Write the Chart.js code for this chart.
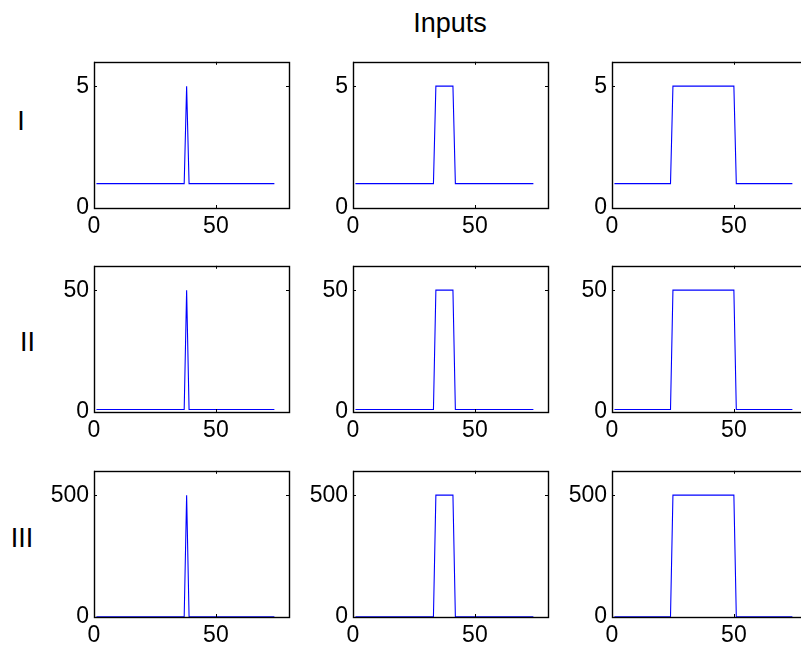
<!DOCTYPE html>
<html>
<head>
<meta charset="utf-8">
<script src="https://cdn.jsdelivr.net/npm/chart.js@4/dist/chart.umd.min.js"></script>
<style>
  html, body { margin: 0; padding: 0; background: #fff; overflow: hidden; }
  #wrap { position: relative; width: 801px; height: 648px; overflow: hidden; }
  #wrap canvas { position: absolute; }
  .lbl { position: absolute; font-family: "Liberation Sans", Arial, sans-serif; font-size: 27px; line-height: 27px; color: #000; white-space: nowrap; }
</style>
</head>
<body>
<div id="wrap">
  <div class="lbl" style="left:0; width:900px; text-align:center; top:10px;">Inputs</div>
  <div class="lbl" style="left:0; width:42px; text-align:center; top:108px;">I</div>
  <div class="lbl" style="left:0; width:55px; text-align:center; top:329px;">II</div>
  <div class="lbl" style="left:0; width:44px; text-align:center; top:525px;">III</div>
</div>
<script>
// step positions (time index) for the three pulse widths
const xNarrow = [1, 37, 38, 39, 74];
const xMedium = [1, 33, 34, 41, 42, 74];
const xWide   = [1, 24, 25, 50, 51, 74];

// row I
const yNarrowI = [1, 1, 5, 1, 1];
const yMediumI = [1, 1, 5, 5, 1, 1];
const yWideI   = [1, 1, 5, 5, 1, 1];
// row II
const yNarrowII = [1, 1, 50, 1, 1];
const yMediumII = [1, 1, 50, 50, 1, 1];
const yWideII   = [1, 1, 50, 50, 1, 1];
// row III
const yNarrowIII = [1, 1, 500, 1, 1];
const yMediumIII = [1, 1, 500, 500, 1, 1];
const yWideIII   = [1, 1, 500, 500, 1, 1];

const xTicks = [0, 50];
const yTicksI = [0, 5];
const yTicksII = [0, 50];
const yTicksIII = [0, 500];
const yMaxes = [6, 60, 600];
const xMax = 80;

const colLeft = [94, 353, 612];
const rowTop = [53, 257, 462];
const plotW = 195, plotH = 155;

const panels = [
  [[xNarrow, yNarrowI], [xMedium, yMediumI], [xWide, yWideI]],
  [[xNarrow, yNarrowII], [xMedium, yMediumII], [xWide, yWideII]],
  [[xNarrow, yNarrowIII], [xMedium, yMediumIII], [xWide, yWideIII]]
];
const rowTicks = [yTicksI, yTicksII, yTicksIII];

const boxPlugin = {
  id: 'box',
  afterDraw(chart) {
    const { ctx, chartArea: a, scales } = chart;
    ctx.save();
    ctx.strokeStyle = '#000';
    ctx.lineWidth = 1.4;
    ctx.strokeRect(Math.round(a.left) + 0.5, Math.round(a.top) + 0.5,
      Math.round(a.right - a.left), Math.round(a.bottom - a.top));
    ctx.lineWidth = 1;
    ctx.beginPath();
    const t = 3;
    scales.x.ticks.forEach(tk => {
      const px = Math.round(scales.x.getPixelForValue(tk.value)) + 0.5;
      ctx.moveTo(px, a.bottom); ctx.lineTo(px, a.bottom - t);
      ctx.moveTo(px, a.top); ctx.lineTo(px, a.top + t);
    });
    scales.y.ticks.forEach(tk => {
      const py = Math.round(scales.y.getPixelForValue(tk.value)) + 0.5;
      ctx.moveTo(a.left, py); ctx.lineTo(a.left + t, py);
      ctx.moveTo(a.right, py); ctx.lineTo(a.right - t, py);
    });
    ctx.stroke();
    ctx.restore();
  }
};

const tickFont = { family: '"Liberation Sans", Arial, sans-serif', size: 23 };
const wrap = document.getElementById('wrap');

panels.forEach((row, r) => {
  row.forEach(([xs, ys], c) => {
    const cv = document.createElement('canvas');
    cv.width = 60 + plotW + 10;
    cv.height = 10 + plotH + 40;
    cv.style.left = (colLeft[c] - 60) + 'px';
    cv.style.top = (rowTop[r] - 10) + 'px';
    wrap.appendChild(cv);
    new Chart(cv, {
      type: 'line',
      data: {
        datasets: [{
          data: xs.map((x, i) => ({ x: x, y: ys[i] })),
          borderColor: '#0000ff',
          borderWidth: 1.1,
          pointRadius: 0,
          tension: 0,
          fill: false
        }]
      },
      options: {
        responsive: false,
        animation: false,
        layout: { padding: { left: 0, top: 10, right: 10, bottom: 0 } },
        plugins: { legend: { display: false }, tooltip: { enabled: false } },
        scales: {
          x: {
            type: 'linear', min: 0, max: xMax,
            grid: { display: false, drawTicks: false },
            border: { display: false },
            ticks: { font: tickFont, color: '#000', padding: 5, maxRotation: 0, autoSkip: false },
            afterBuildTicks: s => { s.ticks = xTicks.map(v => ({ value: v })); },
            afterFit: s => { s.height = 40; }
          },
          y: {
            min: 0, max: yMaxes[r],
            grid: { display: false, drawTicks: false },
            border: { display: false },
            ticks: { font: tickFont, color: '#000', padding: 5, autoSkip: false },
            afterBuildTicks: s => { s.ticks = rowTicks[r].map(v => ({ value: v })); },
            afterFit: s => { s.width = 60; }
          }
        }
      },
      plugins: [boxPlugin]
    });
  });
});
</script>
</body>
</html>
